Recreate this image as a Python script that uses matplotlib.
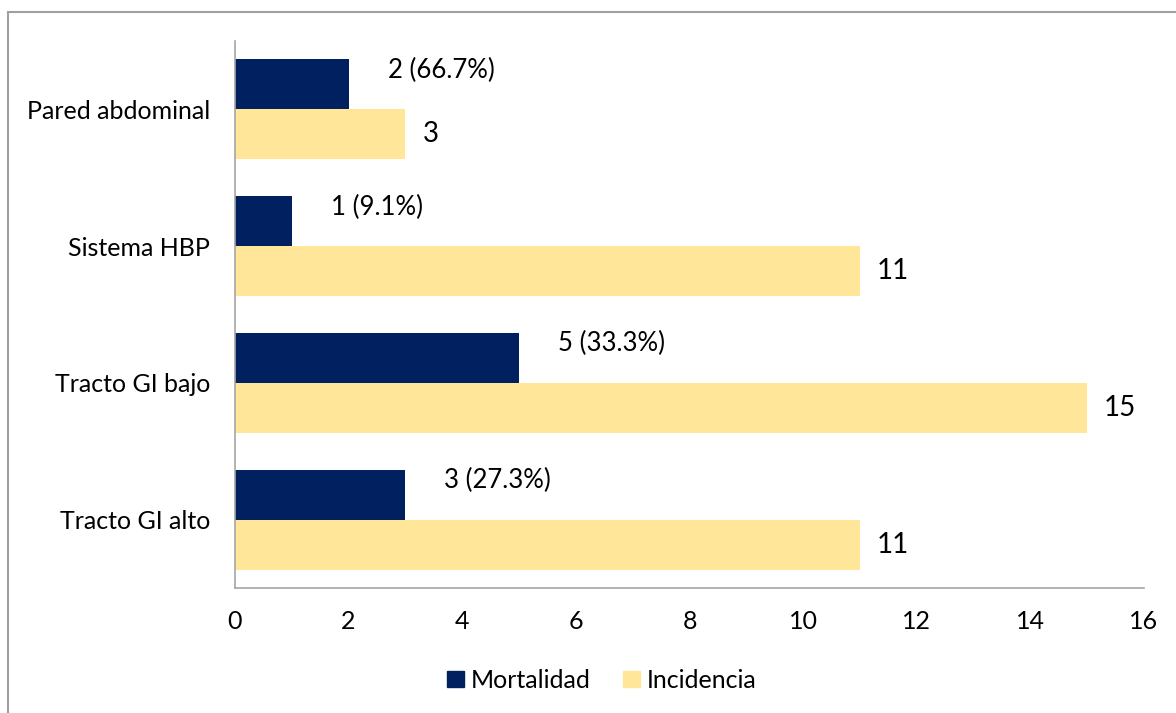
import matplotlib
matplotlib.use("Agg")
import matplotlib.pyplot as plt
from matplotlib.patches import Rectangle
from matplotlib.patches import Patch

categories = ["Tracto GI alto", "Tracto GI bajo", "Sistema HBP", "Pared abdominal"]
mortalidad = [3, 5, 1, 2]
incidencia = [11, 15, 11, 3]
mort_labels = ["3 (27.3%)", "5 (33.3%)", "1 (9.1%)", "2 (66.7%)"]
inc_labels = ["11", "15", "11", "3"]
xticks = [0, 2, 4, 6, 8, 10, 12, 14, 16]

navy = "#002060"
yellow = "#FFE699"
gray = "#A6A6A6"

plt.rcParams["font.family"] = ["Lato", "DejaVu Sans"]

fig = plt.figure(figsize=(11.76, 7.13), dpi=100)
ax = fig.add_axes([235/1176, (713-588)/713, 909/1176, 547/713])

h = 0.365
y = list(range(len(categories)))
ax.barh([v + h/2 for v in y], mortalidad, height=h, color=navy, label="Mortalidad")
ax.barh([v - h/2 for v in y], incidencia, height=h, color=yellow, label="Incidencia")

for i in y:
    ax.annotate(mort_labels[i], (mortalidad[i], i + h/2), xytext=(39, 14),
                textcoords="offset pixels", ha="left", va="center", fontsize=18.5, color="black")
    ax.annotate(inc_labels[i], (incidencia[i], i - h/2), xytext=(17, 0),
                textcoords="offset pixels", ha="left", va="center", fontsize=20, color="black")

ax.set_xlim(0, 16)
ax.set_ylim(-0.5, 3.5)
ax.set_xticks(xticks)
ax.set_xticklabels([str(t) for t in xticks])
ax.set_yticks(y)
ax.set_yticklabels(categories)
ax.tick_params(axis="both", length=0, labelsize=18)
ax.tick_params(axis="x", pad=16)
ax.tick_params(axis="y", pad=18)
for s in ["top", "right"]:
    ax.spines[s].set_visible(False)
for s in ["left", "bottom"]:
    ax.spines[s].set_color(gray)
    ax.spines[s].set_linewidth(1.2)

handles = [Patch(color=navy, label="Mortalidad"), Patch(color=yellow, label="Incidencia")]
fig.legend(handles=handles, loc="center", bbox_to_anchor=(0.512, 0.046), ncol=2,
           frameon=False, fontsize=18, handlelength=0.65, handleheight=0.65,
           handletextpad=0.3, columnspacing=1.3)

fig.patches.append(Rectangle((8/1176, -0.05), 1.2, (713-12)/713 + 0.05,
                             transform=fig.transFigure, fill=False,
                             edgecolor="#A0A0A0", linewidth=1.5))

fig.savefig("out.png", dpi=100)
